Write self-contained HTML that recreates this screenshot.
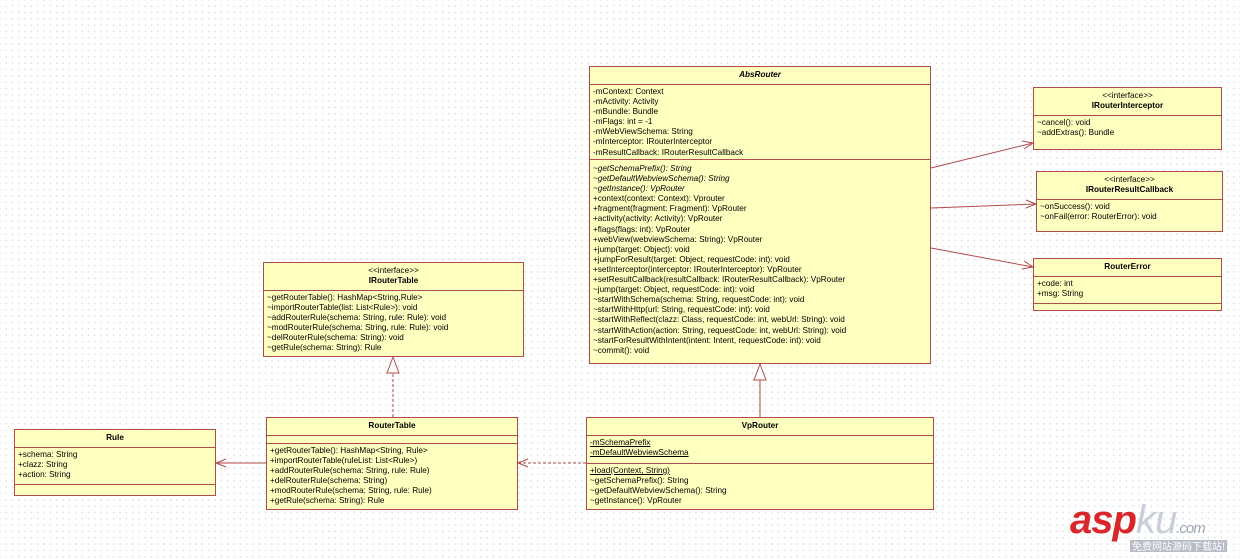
<!DOCTYPE html>
<html><head><meta charset="utf-8"><style>
html,body{margin:0;padding:0}
body{width:1240px;height:559px;position:relative;overflow:hidden;background-color:#fff;
background-image:radial-gradient(circle,#d8d8d8 0.6px,transparent 0.9px);background-size:6.33px 6.33px;background-position:3px 3px;
font-family:"Liberation Sans",Tahoma,sans-serif;font-size:8.2px;color:#000}
.b{position:absolute;background:#ffffc0;border:1px solid #b24b4b;box-sizing:border-box}
.h{text-align:center;font-weight:bold;border-bottom:1px solid #b24b4b;box-sizing:border-box;line-height:10px}
.s{font-weight:normal}
.c{border-bottom:1px solid #b24b4b;padding:2px 3px;line-height:10.1px;box-sizing:border-box;white-space:nowrap}
.c:last-child{border-bottom:none}
i{font-style:italic}
u{text-decoration:underline}
svg{position:absolute;left:0;top:0}
</style></head><body>

<div class="b" style="left:589px;top:66px;width:342px;height:298px">
<div class="h" style="height:18px;padding-top:3px"><i>AbsRouter</i></div>
<div class="c" style="height:75px">-mContext: Context<br>-mActivity: Activity<br>-mBundle: Bundle<br>-mFlags: int = -1<br>-mWebViewSchema: String<br>-mInterceptor: IRouterInterceptor<br>-mResultCallback: IRouterResultCallback</div>
<div class="c" style="padding-top:4px"><i>~getSchemaPrefix(): String</i><br><i>~getDefaultWebviewSchema(): String</i><br><i>~getInstance(): VpRouter</i><br>+context(context: Context): Vprouter<br>+fragment(fragment: Fragment): VpRouter<br>+activity(activity: Activity): VpRouter<br>+flags(flags: int): VpRouter<br>+webView(webviewSchema: String): VpRouter<br>+jump(target: Object): void<br>+jumpForResult(target: Object, requestCode: int): void<br>+setInterceptor(interceptor: IRouterInterceptor): VpRouter<br>+setResultCallback(resultCallback: IRouterResultCallback): VpRouter<br>~jump(target: Object, requestCode: int): void<br>~startWithSchema(schema: String, requestCode: int): void<br>~startWithHttp(url: String, requestCode: int): void<br>~startWithReflect(clazz: Class, requestCode: int, webUrl: String): void<br>~startWithAction(action: String, requestCode: int, webUrl: String): void<br>~startForResultWithIntent(intent: Intent, requestCode: int): void<br>~commit(): void</div>
</div>

<div class="b" style="left:1033px;top:87px;width:189px;height:63px">
<div class="h" style="height:28px;padding-top:3px"><span class="s">&lt;&lt;interface&gt;&gt;</span><br>IRouterInterceptor</div>
<div class="c">~cancel(): void<br>~addExtras(): Bundle</div>
</div>

<div class="b" style="left:1036px;top:171px;width:187px;height:61px">
<div class="h" style="height:28px;padding-top:3px"><span class="s">&lt;&lt;interface&gt;&gt;</span><br>IRouterResultCallback</div>
<div class="c">~onSuccess(): void<br>~onFail(error: RouterError): void</div>
</div>

<div class="b" style="left:1033px;top:258px;width:189px;height:53px">
<div class="h" style="height:18px;padding-top:3px">RouterError</div>
<div class="c" style="height:27px">+code: int<br>+msg: String</div>
<div class="c"></div>
</div>

<div class="b" style="left:263px;top:262px;width:261px;height:95px">
<div class="h" style="height:28px;padding-top:3px"><span class="s">&lt;&lt;interface&gt;&gt;</span><br>IRouterTable</div>
<div class="c">~getRouterTable(): HashMap&lt;String,Rule&gt;<br>~importRouterTable(list: List&lt;Rule&gt;): void<br>~addRouterRule(schema: String, rule: Rule): void<br>~modRouterRule(schema: String, rule: Rule): void<br>~delRouterRule(schema: String): void<br>~getRule(schema: String): Rule</div>
</div>

<div class="b" style="left:266px;top:417px;width:252px;height:93px">
<div class="h" style="height:18px;padding-top:3px">RouterTable</div>
<div class="c" style="height:8px;padding:0"></div>
<div class="c">+getRouterTable(): HashMap&lt;String, Rule&gt;<br>+importRouterTable(ruleList: List&lt;Rule&gt;)<br>+addRouterRule(schema: String, rule: Rule)<br>+delRouterRule(schema: String)<br>+modRouterRule(schema: String, rule: Rule)<br>+getRule(schema: String): Rule</div>
</div>

<div class="b" style="left:14px;top:429px;width:202px;height:67px">
<div class="h" style="height:18px;padding-top:3px">Rule</div>
<div class="c" style="height:37px">+schema: String<br>+clazz: String<br>+action: String</div>
<div class="c"></div>
</div>

<div class="b" style="left:586px;top:417px;width:348px;height:93px">
<div class="h" style="height:18px;padding-top:3px">VpRouter</div>
<div class="c" style="height:28px"><u>-mSchemaPrefix</u><br><u>-mDefaultWebviewSchema</u></div>
<div class="c"><u>+load(Context, String)</u><br>~getSchemaPrefix(): String<br>~getDefaultWebviewSchema(): String<br>~getInstance(): VpRouter</div>
</div>

<svg width="1240" height="559" fill="none" stroke="#b24b4b" stroke-width="1">
<line x1="931" y1="168" x2="1033" y2="143"/><polyline points="1022,141 1033,143 1024,149"/>
<line x1="931" y1="208" x2="1036" y2="204"/><polyline points="1026,200 1036,204 1026,208"/>
<line x1="931" y1="248" x2="1033" y2="267"/><polyline points="1024,261 1033,267 1022,269"/>
<line x1="760" y1="417" x2="760" y2="380"/><polygon points="760,364 754,380 766,380" fill="#fff"/>
<line x1="393" y1="417" x2="393" y2="373" stroke-dasharray="3,2"/><polygon points="393,357 387,373 399,373" fill="#fff"/>
<line x1="266" y1="463" x2="216" y2="463"/><polyline points="226,459 216,463 226,467"/>
<line x1="586" y1="463" x2="518" y2="463" stroke-dasharray="3,2"/><polyline points="528,459 518,463 528,467"/>
</svg>

<div style="position:absolute;left:1070px;top:500px;font:italic bold 40px 'Liberation Sans',sans-serif;color:#d9262b;letter-spacing:-1px;line-height:40px">asp<span style="color:#c9cfd8;font-weight:normal">ku</span><span style="font-size:15px;color:#a0a8b4;font-weight:normal">.com</span></div>
<div style="position:absolute;left:1130px;top:540px;font:10px 'Noto Sans CJK SC',sans-serif;color:#fff;background:#b7bcc6;padding:0 2px;line-height:12px">免费网站源码下载站!</div>
</body></html>
